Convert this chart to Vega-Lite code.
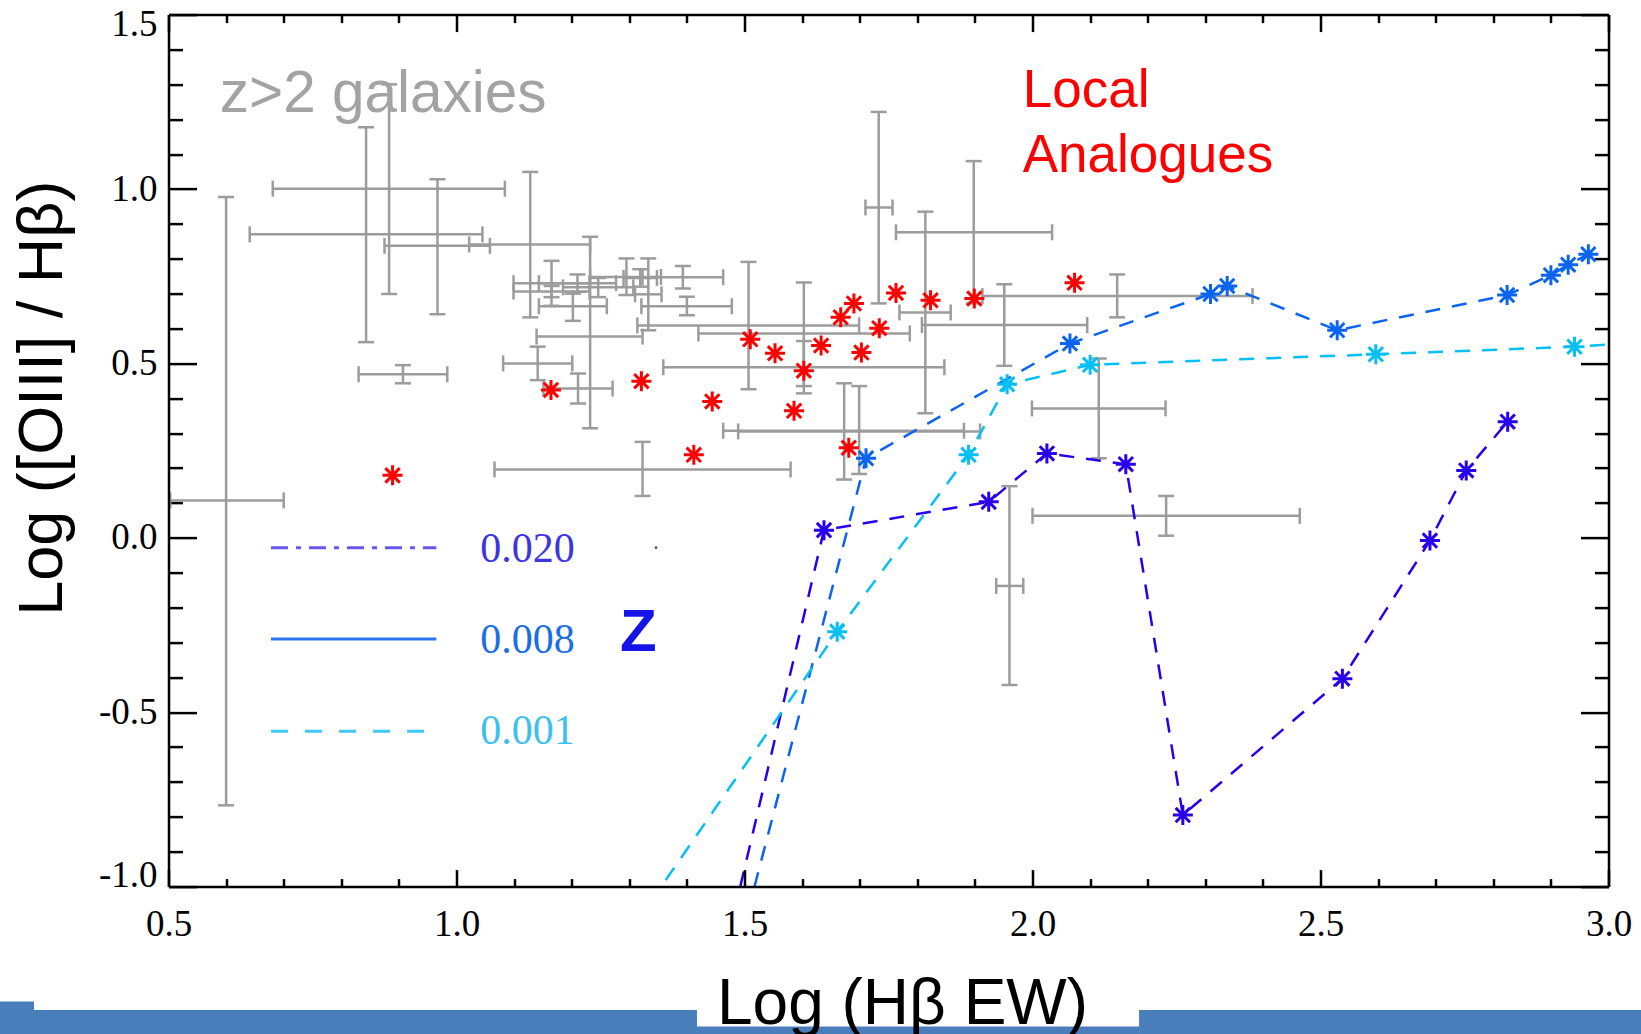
{
  "$schema": "https://vega.github.io/schema/vega-lite/v6.json",
  "width": 1440,
  "height": 872,
  "autosize": {"type": "none"},
  "padding": {"left": 168.5, "top": 14.6, "right": 32.5, "bottom": 147.4},
  "background": "white",
  "config": {"view": {"stroke": null}},
  "resolve": {"scale": {"color": "independent", "strokeDash": "independent"}},
  "datasets": {
    "errs": [
      {"x":0.600,"y":0.107,"xlo":0.503,"xhi":0.700,"ylo":-0.767,"yhi":0.977},
      {"x":0.843,"y":0.870,"xlo":0.641,"xhi":1.045,"ylo":0.561,"yhi":1.177},
      {"x":0.883,"y":1.001,"xlo":0.681,"xhi":1.084,"ylo":0.699,"yhi":1.300},
      {"x":0.967,"y":0.837,"xlo":0.875,"xhi":1.058,"ylo":0.641,"yhi":1.028},
      {"x":0.907,"y":0.469,"xlo":0.830,"xhi":0.984,"ylo":0.443,"yhi":0.495},
      {"x":1.128,"y":0.841,"xlo":1.022,"xhi":1.232,"ylo":0.632,"yhi":1.049},
      {"x":1.165,"y":0.730,"xlo":1.099,"xhi":1.231,"ylo":0.665,"yhi":0.794},
      {"x":1.165,"y":0.706,"xlo":1.099,"xhi":1.231,"ylo":0.690,"yhi":0.722},
      {"x":1.202,"y":0.664,"xlo":1.143,"xhi":1.261,"ylo":0.622,"yhi":0.700},
      {"x":1.210,"y":0.730,"xlo":1.143,"xhi":1.277,"ylo":0.705,"yhi":0.755},
      {"x":1.246,"y":0.718,"xlo":1.185,"xhi":1.307,"ylo":0.690,"yhi":0.745},
      {"x":1.295,"y":0.748,"xlo":1.232,"xhi":1.355,"ylo":0.696,"yhi":0.801},
      {"x":1.333,"y":0.698,"xlo":1.310,"xhi":1.356,"ylo":0.595,"yhi":0.801},
      {"x":1.319,"y":0.745,"xlo":1.290,"xhi":1.348,"ylo":0.720,"yhi":0.770},
      {"x":1.393,"y":0.747,"xlo":1.323,"xhi":1.463,"ylo":0.715,"yhi":0.779},
      {"x":1.400,"y":0.664,"xlo":1.321,"xhi":1.478,"ylo":0.638,"yhi":0.691},
      {"x":1.141,"y":0.500,"xlo":1.081,"xhi":1.201,"ylo":0.452,"yhi":0.548},
      {"x":1.211,"y":0.428,"xlo":1.151,"xhi":1.271,"ylo":0.385,"yhi":0.471},
      {"x":1.232,"y":0.577,"xlo":1.139,"xhi":1.323,"ylo":0.314,"yhi":0.863},
      {"x":1.323,"y":0.196,"xlo":1.066,"xhi":1.580,"ylo":0.120,"yhi":0.275},
      {"x":1.507,"y":0.609,"xlo":1.314,"xhi":1.699,"ylo":0.426,"yhi":0.791},
      {"x":1.603,"y":0.586,"xlo":1.420,"xhi":1.787,"ylo":0.435,"yhi":0.732},
      {"x":1.603,"y":0.489,"xlo":1.359,"xhi":1.847,"ylo":0.414,"yhi":0.564},
      {"x":1.673,"y":0.307,"xlo":1.463,"xhi":1.881,"ylo":0.167,"yhi":0.443},
      {"x":1.699,"y":0.305,"xlo":1.489,"xhi":1.909,"ylo":0.183,"yhi":0.435},
      {"x":1.733,"y":0.947,"xlo":1.710,"xhi":1.757,"ylo":0.672,"yhi":1.221},
      {"x":1.898,"y":0.876,"xlo":1.763,"xhi":2.034,"ylo":0.672,"yhi":1.080},
      {"x":1.814,"y":0.646,"xlo":1.769,"xhi":1.858,"ylo":0.357,"yhi":0.935},
      {"x":1.951,"y":0.610,"xlo":1.808,"xhi":2.095,"ylo":0.493,"yhi":0.727},
      {"x":2.115,"y":0.371,"xlo":1.999,"xhi":2.231,"ylo":0.228,"yhi":0.514},
      {"x":2.147,"y":0.693,"xlo":1.913,"xhi":2.382,"ylo":0.632,"yhi":0.755},
      {"x":2.232,"y":0.063,"xlo":2.000,"xhi":2.464,"ylo":0.006,"yhi":0.120},
      {"x":1.960,"y":-0.138,"xlo":1.937,"xhi":1.984,"ylo":-0.422,"yhi":0.148}
    ],
    "local": [
      {"x":0.889,"y":0.179},{"x":1.164,"y":0.424},{"x":1.321,"y":0.449},{"x":1.412,"y":0.238},
      {"x":1.444,"y":0.391},{"x":1.510,"y":0.569},{"x":1.553,"y":0.529},{"x":1.603,"y":0.479},
      {"x":1.586,"y":0.364},{"x":1.633,"y":0.551},{"x":1.667,"y":0.632},{"x":1.690,"y":0.672},
      {"x":1.703,"y":0.531},{"x":1.681,"y":0.258},{"x":1.734,"y":0.601},{"x":1.763,"y":0.702},
      {"x":1.823,"y":0.681},{"x":1.899,"y":0.686},{"x":2.073,"y":0.731}
    ],
    "models": [
      {"series":"0.020","order":0,"x":1.45,"y":-1.3},
      {"series":"0.020","order":1,"x":1.638,"y":0.022},
      {"series":"0.020","order":2,"x":1.924,"y":0.103},
      {"series":"0.020","order":3,"x":2.025,"y":0.242},
      {"series":"0.020","order":4,"x":2.162,"y":0.211},
      {"series":"0.020","order":5,"x":2.261,"y":-0.795},
      {"series":"0.020","order":6,"x":2.538,"y":-0.404},
      {"series":"0.020","order":7,"x":2.690,"y":-0.008},
      {"series":"0.020","order":8,"x":2.753,"y":0.193},
      {"series":"0.020","order":9,"x":2.825,"y":0.333},
      {"series":"0.008","order":0,"x":1.47,"y":-1.3},
      {"series":"0.008","order":1,"x":1.711,"y":0.228},
      {"series":"0.008","order":2,"x":2.065,"y":0.557},
      {"series":"0.008","order":3,"x":2.309,"y":0.699},
      {"series":"0.008","order":4,"x":2.338,"y":0.722},
      {"series":"0.008","order":5,"x":2.529,"y":0.595},
      {"series":"0.008","order":6,"x":2.824,"y":0.696},
      {"series":"0.008","order":7,"x":2.900,"y":0.753},
      {"series":"0.008","order":8,"x":2.930,"y":0.783},
      {"series":"0.008","order":9,"x":2.965,"y":0.813},
      {"series":"0.001","order":0,"x":1.23,"y":-1.3},
      {"series":"0.001","order":1,"x":1.661,"y":-0.269},
      {"series":"0.001","order":2,"x":1.889,"y":0.238},
      {"series":"0.001","order":3,"x":1.956,"y":0.440},
      {"series":"0.001","order":4,"x":2.100,"y":0.496},
      {"series":"0.001","order":5,"x":2.596,"y":0.526},
      {"series":"0.001","order":6,"x":2.941,"y":0.548},
      {"series":"0.001","order":7,"x":3.1,"y":0.565}
    ],
    "legend": [
      {"z":"0.020","x":0.678,"x2":0.965,"y":-0.0284,"tx":1.0413,"ty":-0.0688},
      {"z":"0.008","x":0.678,"x2":0.965,"y":-0.290,"tx":1.0413,"ty":-0.3306},
      {"z":"0.001","x":0.678,"x2":0.945,"y":-0.5548,"tx":1.0413,"ty":-0.592}
    ],
    "bars": [
      {"x":0.19,"x2":0.2665,"y":-1.3297,"y2":-1.45},
      {"x":0.19,"x2":1.4175,"y":-1.3541,"y2":-1.45},
      {"x":1.4175,"x2":2.185,"y":-1.4014,"y2":-1.45},
      {"x":2.185,"x2":3.08,"y":-1.3541,"y2":-1.45}
    ]
  },
  "layer": [
    {
      "data": {"name": "bars"},
      "mark": {"type": "rect", "color": "#4a7ebb"},
      "encoding": {
        "x": {"field": "x", "type": "quantitative", "scale": {"domain": [0.5, 3.0], "nice": false, "zero": false}, "axis": null},
        "x2": {"field": "x2"},
        "y": {"field": "y", "type": "quantitative", "scale": {"domain": [-1.0, 1.5], "nice": false, "zero": false}, "axis": null},
        "y2": {"field": "y2"}
      }
    },
    {
      "data": {"name": "errs"},
      "mark": {"type": "rule", "color": "#9c9c9c", "strokeWidth": 2.5},
      "encoding": {
        "x": {"field": "xlo", "type": "quantitative", "scale": {"domain": [0.5, 3.0], "nice": false, "zero": false},
          "axis": {"orient": "bottom", "values": [0.5, 1.0, 1.5, 2.0, 2.5, 3.0], "labelExpr": "replace(format(datum.value, '.1f'), '−', '-')",
            "tickSize": -17, "tickWidth": 2.5, "tickColor": "black", "domain": true, "domainWidth": 2.5, "domainColor": "black",
            "labelFont": "Liberation Serif", "labelFontSize": 37, "labelColor": "black", "labelPadding": 36.5, "labelFlush": false, "labelOverlap": false, "labelBound": false,
            "grid": false, "zindex": 1,
            "title": "Log (Hβ EW)", "titleFont": "Liberation Sans", "titleFontSize": 64, "titleFontWeight": "normal", "titleColor": "black",
            "titleX": 733.5, "titleY": 137, "titleBaseline": "alphabetic", "titleAlign": "center"}},
        "x2": {"field": "xhi"},
        "y": {"field": "y", "type": "quantitative", "scale": {"domain": [-1.0, 1.5], "nice": false, "zero": false},
          "axis": {"orient": "left", "values": [-1.0, -0.5, 0.0, 0.5, 1.0, 1.5], "labelExpr": "replace(format(datum.value, '.1f'), '−', '-')",
            "tickSize": -28, "tickWidth": 2.5, "tickColor": "black", "domain": true, "domainWidth": 2.5, "domainColor": "black",
            "labelFont": "Liberation Serif", "labelFontSize": 37, "labelColor": "black", "labelPadding": 39.5, "labelFlush": true, "labelFlushOffset": 8, "labelOverlap": false, "labelBound": false,
            "grid": false, "zindex": 1,
            "title": "Log ([OIII] / Hβ)", "titleFont": "Liberation Sans", "titleFontSize": 63, "titleFontWeight": "normal", "titleColor": "black",
            "titleAngle": 270, "titleX": -107.5, "titleY": 383, "titleBaseline": "alphabetic", "titleAlign": "center"}}
      }
    },
    {
      "data": {"name": "errs"},
      "mark": {"type": "rule", "color": "#9c9c9c", "strokeWidth": 2.5},
      "encoding": {
        "x": {"field": "x", "type": "quantitative", "scale": {"domain": [0.5, 3.0], "nice": false, "zero": false},
          "axis": {"orient": "top", "values": [0.5, 1.0, 1.5, 2.0, 2.5, 3.0], "labels": false, "title": null,
            "tickSize": -17, "tickWidth": 2.5, "tickColor": "black", "domain": true, "domainWidth": 2.5, "domainColor": "black", "grid": false}},
        "y": {"field": "ylo", "type": "quantitative", "scale": {"domain": [-1.0, 1.5], "nice": false, "zero": false},
          "axis": {"orient": "right", "values": [-1.0, -0.5, 0.0, 0.5, 1.0, 1.5], "labels": false, "title": null,
            "tickSize": -28, "tickWidth": 2.5, "tickColor": "black", "domain": true, "domainWidth": 2.5, "domainColor": "black", "grid": false}},
        "y2": {"field": "yhi"}
      }
    },
    {
      "data": {"name": "errs"},
      "mark": {"type": "tick", "orient": "vertical", "color": "#9c9c9c", "size": 16, "thickness": 2.5, "opacity": 1},
      "encoding": {
        "x": {"field": "xlo", "type": "quantitative", "scale": {"domain": [0.5, 3.0], "nice": false, "zero": false},
          "axis": {"orient": "bottom", "values": [0.6,0.7,0.8,0.9,1.1,1.2,1.3,1.4,1.6,1.7,1.8,1.9,2.1,2.2,2.3,2.4,2.6,2.7,2.8,2.9], "labels": false, "title": null,
            "tickSize": -8, "tickWidth": 2.5, "tickColor": "black", "domain": false, "grid": false}},
        "y": {"field": "y", "type": "quantitative", "scale": {"domain": [-1.0, 1.5], "nice": false, "zero": false},
          "axis": {"orient": "left", "values": [-0.9,-0.8,-0.7,-0.6,-0.4,-0.3,-0.2,-0.1,0.1,0.2,0.3,0.4,0.6,0.7,0.8,0.9,1.1,1.2,1.3,1.4], "labels": false, "title": null,
            "tickSize": -14, "tickWidth": 2.5, "tickColor": "black", "domain": false, "grid": false}}
      }
    },
    {
      "data": {"name": "errs"},
      "mark": {"type": "tick", "orient": "vertical", "color": "#9c9c9c", "size": 16, "thickness": 2.5, "opacity": 1},
      "encoding": {
        "x": {"field": "xhi", "type": "quantitative", "scale": {"domain": [0.5, 3.0], "nice": false, "zero": false},
          "axis": {"orient": "top", "values": [0.6,0.7,0.8,0.9,1.1,1.2,1.3,1.4,1.6,1.7,1.8,1.9,2.1,2.2,2.3,2.4,2.6,2.7,2.8,2.9], "labels": false, "title": null,
            "tickSize": -8, "tickWidth": 2.5, "tickColor": "black", "domain": false, "grid": false}},
        "y": {"field": "y", "type": "quantitative", "scale": {"domain": [-1.0, 1.5], "nice": false, "zero": false},
          "axis": {"orient": "right", "values": [-0.9,-0.8,-0.7,-0.6,-0.4,-0.3,-0.2,-0.1,0.1,0.2,0.3,0.4,0.6,0.7,0.8,0.9,1.1,1.2,1.3,1.4], "labels": false, "title": null,
            "tickSize": -14, "tickWidth": 2.5, "tickColor": "black", "domain": false, "grid": false}}
      }
    },
    {
      "data": {"name": "errs"},
      "mark": {"type": "tick", "orient": "horizontal", "color": "#9c9c9c", "size": 16, "thickness": 2.5, "opacity": 1},
      "encoding": {
        "x": {"field": "x", "type": "quantitative", "scale": {"domain": [0.5, 3.0], "nice": false, "zero": false}, "axis": null},
        "y": {"field": "ylo", "type": "quantitative", "scale": {"domain": [-1.0, 1.5], "nice": false, "zero": false}, "axis": null}
      }
    },
    {
      "data": {"name": "errs"},
      "mark": {"type": "tick", "orient": "horizontal", "color": "#9c9c9c", "size": 16, "thickness": 2.5, "opacity": 1},
      "encoding": {
        "x": {"field": "x", "type": "quantitative", "scale": {"domain": [0.5, 3.0], "nice": false, "zero": false}, "axis": null},
        "y": {"field": "yhi", "type": "quantitative", "scale": {"domain": [-1.0, 1.5], "nice": false, "zero": false}, "axis": null}
      }
    },
    {
      "data": {"name": "local"},
      "mark": {"type": "point", "shape": "M0,-1L0,1M-1,0L1,0M-0.72,-0.72L0.72,0.72M-0.72,0.72L0.72,-0.72", "filled": false, "size": 400, "strokeWidth": 3, "color": "#ff0000", "opacity": 1},
      "encoding": {
        "x": {"field": "x", "type": "quantitative", "scale": {"domain": [0.5, 3.0], "nice": false, "zero": false}, "axis": null},
        "y": {"field": "y", "type": "quantitative", "scale": {"domain": [-1.0, 1.5], "nice": false, "zero": false}, "axis": null}
      }
    },
    {
      "data": {"name": "models"},
      "mark": {"type": "line", "strokeDash": [15, 12], "strokeWidth": 2.5, "clip": true},
      "encoding": {
        "x": {"field": "x", "type": "quantitative", "scale": {"domain": [0.5, 3.0], "nice": false, "zero": false}, "axis": null},
        "y": {"field": "y", "type": "quantitative", "scale": {"domain": [-1.0, 1.5], "nice": false, "zero": false}, "axis": null},
        "color": {"field": "series", "type": "nominal", "scale": {"domain": ["0.020", "0.008", "0.001"], "range": ["#2800eb", "#0a64f0", "#05bff5"]}, "legend": null},
        "order": {"field": "order", "type": "quantitative"}
      }
    },
    {
      "data": {"name": "models"},
      "mark": {"type": "point", "shape": "M0,-1L0,1M-1,0L1,0M-0.72,-0.72L0.72,0.72M-0.72,0.72L0.72,-0.72", "filled": false, "size": 400, "strokeWidth": 3, "opacity": 1, "clip": true},
      "encoding": {
        "x": {"field": "x", "type": "quantitative", "scale": {"domain": [0.5, 3.0], "nice": false, "zero": false}, "axis": null},
        "y": {"field": "y", "type": "quantitative", "scale": {"domain": [-1.0, 1.5], "nice": false, "zero": false}, "axis": null},
        "color": {"field": "series", "type": "nominal", "scale": {"domain": ["0.020", "0.008", "0.001"], "range": ["#2800eb", "#0a64f0", "#05bff5"]}, "legend": null}
      }
    },
    {
      "data": {"name": "legend"},
      "mark": {"type": "rule", "strokeWidth": 3},
      "encoding": {
        "x": {"field": "x", "type": "quantitative", "scale": {"domain": [0.5, 3.0], "nice": false, "zero": false}, "axis": null},
        "x2": {"field": "x2"},
        "y": {"field": "y", "type": "quantitative", "scale": {"domain": [-1.0, 1.5], "nice": false, "zero": false}, "axis": null},
        "color": {"field": "z", "type": "nominal", "scale": {"domain": ["0.020", "0.008", "0.001"], "range": ["#6657ee", "#2a74f0", "#40c8f8"]}, "legend": null},
        "strokeDash": {"field": "z", "type": "nominal", "scale": {"domain": ["0.020", "0.008", "0.001"], "range": [[17, 8, 5, 8], [1, 0], [17, 17]]}, "legend": null}
      }
    },
    {
      "data": {"name": "legend"},
      "mark": {"type": "text", "font": "Liberation Serif", "fontSize": 42, "align": "left", "baseline": "alphabetic"},
      "encoding": {
        "x": {"field": "tx", "type": "quantitative", "scale": {"domain": [0.5, 3.0], "nice": false, "zero": false}, "axis": null},
        "y": {"field": "ty", "type": "quantitative", "scale": {"domain": [-1.0, 1.5], "nice": false, "zero": false}, "axis": null},
        "text": {"field": "z"},
        "color": {"field": "z", "type": "nominal", "scale": {"domain": ["0.020", "0.008", "0.001"], "range": ["#3d35e0", "#1a6ee8", "#3cc0f0"]}, "legend": null}
      }
    },
    {
      "data": {"values": [{"label": "Z", "x": 1.284, "y": -0.325}]},
      "mark": {"type": "text", "font": "Liberation Sans", "fontSize": 60, "fontWeight": "bold", "align": "left", "baseline": "alphabetic", "color": "#1414e6"},
      "encoding": {
        "x": {"field": "x", "type": "quantitative", "scale": {"domain": [0.5, 3.0], "nice": false, "zero": false}, "axis": null},
        "y": {"field": "y", "type": "quantitative", "scale": {"domain": [-1.0, 1.5], "nice": false, "zero": false}, "axis": null},
        "text": {"field": "label"}
      }
    },
    {
      "data": {"values": [{"x": 1.3464, "y": -0.0284}]},
      "mark": {"type": "point", "shape": "circle", "filled": true, "size": 8, "color": "#555555", "opacity": 1},
      "encoding": {
        "x": {"field": "x", "type": "quantitative", "scale": {"domain": [0.5, 3.0], "nice": false, "zero": false}, "axis": null},
        "y": {"field": "y", "type": "quantitative", "scale": {"domain": [-1.0, 1.5], "nice": false, "zero": false}, "axis": null}
      }
    },
    {
      "data": {"values": [{"label": "z>2 galaxies", "x": 0.589, "y": 1.221}]},
      "mark": {"type": "text", "font": "Liberation Sans", "fontSize": 58.5, "align": "left", "baseline": "alphabetic", "color": "#a3a3a3"},
      "encoding": {
        "x": {"field": "x", "type": "quantitative", "scale": {"domain": [0.5, 3.0], "nice": false, "zero": false}, "axis": null},
        "y": {"field": "y", "type": "quantitative", "scale": {"domain": [-1.0, 1.5], "nice": false, "zero": false}, "axis": null},
        "text": {"field": "label"}
      }
    },
    {
      "data": {"values": [{"label": "Local", "x": 1.983, "y": 1.234}, {"label": "Analogues", "x": 1.983, "y": 1.049}]},
      "mark": {"type": "text", "font": "Liberation Sans", "fontSize": 53, "align": "left", "baseline": "alphabetic", "color": "#ff0000"},
      "encoding": {
        "x": {"field": "x", "type": "quantitative", "scale": {"domain": [0.5, 3.0], "nice": false, "zero": false}, "axis": null},
        "y": {"field": "y", "type": "quantitative", "scale": {"domain": [-1.0, 1.5], "nice": false, "zero": false}, "axis": null},
        "text": {"field": "label"}
      }
    }
  ]
}
